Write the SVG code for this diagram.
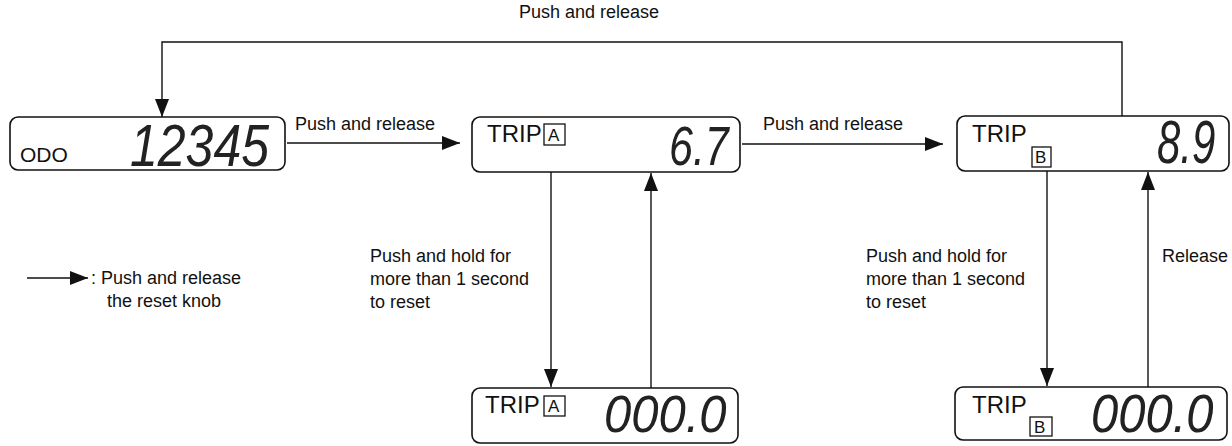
<svg xmlns="http://www.w3.org/2000/svg" width="1232" height="446" viewBox="0 0 1232 446">
<style>
.box{fill:none;stroke:#111;stroke-width:1.6}
.lbl{font-family:"Liberation Sans",Arial,sans-serif;font-size:18px;fill:#111}
.trip{font-family:"Liberation Sans",Arial,sans-serif;font-size:24px;fill:#111}
.tag{font-family:"Liberation Sans",Arial,sans-serif;font-size:17px;fill:#111}
.tagbox{fill:none;stroke:#111;stroke-width:1.3}
.seg{font-family:"Liberation Sans",Arial,sans-serif;font-style:italic;fill:#222}
.con{fill:none;stroke:#111;stroke-width:1.4}
</style>
<defs>
<marker id="ah" markerUnits="userSpaceOnUse" markerWidth="18" markerHeight="14" refX="18" refY="7" orient="auto">
<path d="M0,0 L18,7 L0,14 z" fill="#111"/>
</marker>
</defs>

<g id="odo">
<rect class="box" x="10" y="117" width="275" height="53" rx="8"/>
<text class="trip" x="20" y="162" style="font-size:21px">ODO</text>
<text class="seg" transform="translate(130,166) scale(1,1.17)" font-size="50">12345</text>
</g>

<g id="tripA">
<rect class="box" x="472" y="117" width="268" height="55" rx="8"/>
<text class="trip" x="487" y="142">TRIP</text>
<rect class="tagbox" x="544" y="124" width="21" height="21"/>
<text class="tag" x="548" y="141">A</text>
<text class="seg" transform="translate(669,165) scale(1,1.3)" font-size="43">6.7</text>
</g>

<g id="tripB">
<rect class="box" x="957" y="116" width="272" height="55" rx="8"/>
<text class="trip" x="972" y="142">TRIP</text>
<rect class="tagbox" x="1032" y="147" width="19" height="20"/>
<text class="tag" x="1035" y="163">B</text>
<text class="seg" transform="translate(1157,163) scale(1,1.45)" font-size="42">8.9</text>
</g>

<g id="tripA0">
<rect class="box" x="472" y="388" width="266" height="55" rx="8"/>
<text class="trip" x="485" y="413">TRIP</text>
<rect class="tagbox" x="544" y="396" width="21" height="20"/>
<text class="tag" x="548" y="412">A</text>
<text class="seg" transform="translate(604,432) scale(1,1.05)" font-size="49">000.0</text>
</g>

<g id="tripB0">
<rect class="box" x="955" y="387" width="272" height="53" rx="8"/>
<text class="trip" x="972" y="413">TRIP</text>
<rect class="tagbox" x="1030" y="417" width="22" height="19"/>
<text class="tag" x="1034" y="433">B</text>
<text class="seg" transform="translate(1091,432) scale(1,1.1)" font-size="49">000.0</text>
</g>

<g id="connectors">
<line class="con" x1="287" y1="143" x2="460" y2="143" marker-end="url(#ah)"/>
<line class="con" x1="742" y1="144" x2="943" y2="144" marker-end="url(#ah)"/>
<polyline class="con" points="1122,116 1122,42 162,42 162,117" marker-end="url(#ah)"/>
<line class="con" x1="551" y1="172" x2="551" y2="387" marker-end="url(#ah)"/>
<line class="con" x1="651" y1="388" x2="651" y2="173" marker-end="url(#ah)"/>
<line class="con" x1="1047" y1="171" x2="1047" y2="386" marker-end="url(#ah)"/>
<line class="con" x1="1148" y1="387" x2="1148" y2="172" marker-end="url(#ah)"/>
</g>

<g id="labels">
<text class="lbl" x="519" y="18">Push and release</text>
<text class="lbl" x="295" y="130">Push and release</text>
<text class="lbl" x="763" y="130">Push and release</text>
<text class="lbl" x="370" y="262">Push and hold for</text>
<text class="lbl" x="370" y="285">more than 1 second</text>
<text class="lbl" x="370" y="308">to reset</text>
<text class="lbl" x="866" y="262">Push and hold for</text>
<text class="lbl" x="866" y="285">more than 1 second</text>
<text class="lbl" x="866" y="308">to reset</text>
<text class="lbl" x="1162" y="262">Release</text>
</g>

<g id="legend">
<line class="con" x1="27" y1="278" x2="88" y2="278" marker-end="url(#ah)"/>
<text class="lbl" x="91" y="284">: Push and release</text>
<text class="lbl" x="107" y="307">the reset knob</text>
</g>
</svg>
